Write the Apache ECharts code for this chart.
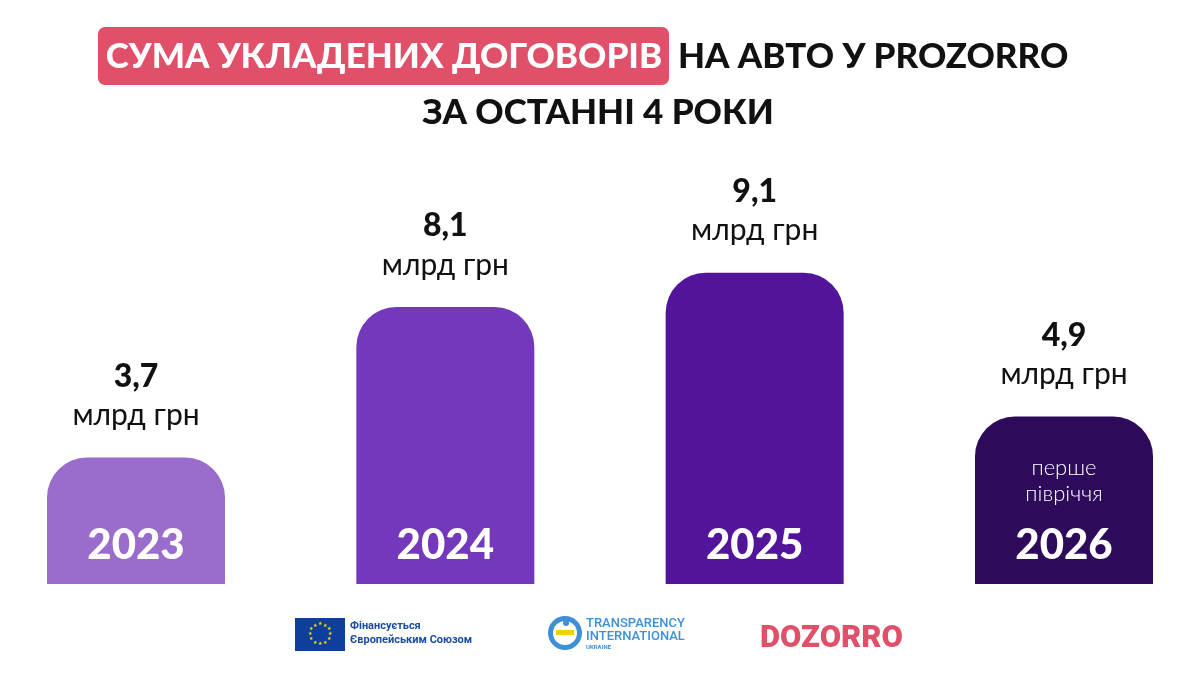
<!DOCTYPE html>
<html><head><meta charset="utf-8">
<script src="https://cdn.jsdelivr.net/npm/echarts@6/dist/echarts.min.js"></script>
<style>html,body{margin:0;padding:0;background:#fff}#c{width:1200px;height:675px}</style>
</head><body><div id="c"></div>
<script>
const years = ['2023', '2024', '2025', '2026'];
const values = [3.7, 8.1, 9.1, 4.9];
const valueLabels = ['3,7', '8,1', '9,1', '4,9'];
const unitLabel = 'млрд грн';
const notes = ['', '', '', 'перше\nпівріччя'];
const colors = ['#9a6dcc', '#7338bb', '#51149a', '#2d0a5a'];

const FONT = 'Lato, "Open Sans", sans-serif';
const chart = echarts.init(document.getElementById('c'), null, {renderer: 'canvas'});

const stars = [];
for (let i = 0; i < 12; i++) {
  const a = i / 12 * Math.PI * 2;
  stars.push({type: 'text', x: 320 + 10 * Math.cos(a), y: 634 + 10 * Math.sin(a),
    style: {text: '★', fill: '#ffdd00', fontSize: 5, align: 'center', verticalAlign: 'middle'}});
}

chart.setOption({
  animation: false,
  backgroundColor: '#ffffff',
  grid: {left: 136, right: 136, top: 242, bottom: 91},
  xAxis: {type: 'category', data: years, boundaryGap: false, show: false},
  yAxis: {type: 'value', min: 0, max: 10, show: false},
  series: [
    {
      type: 'bar', barWidth: 178,
      data: values.map((v, i) => ({value: v, itemStyle: {color: colors[i], borderRadius: [40, 40, 0, 0]}})),
      label: {
        show: true, position: 'top', distance: 24,
        formatter: p => '{v|' + valueLabels[p.dataIndex] + '}\n{u|' + unitLabel + '}',
        rich: {
          v: {fontFamily: FONT, fontWeight: 900, fontSize: 32, lineHeight: 42, color: '#111', align: 'center'},
          u: {fontFamily: FONT, fontWeight: 400, fontSize: 30, lineHeight: 36, color: '#111', align: 'center'}
        }
      }
    },
    {
      type: 'bar', barWidth: 178, barGap: '-100%', silent: true,
      data: values.map(v => ({value: v, itemStyle: {color: 'rgba(0,0,0,0)'}})),
      label: {
        show: true, position: 'insideBottom', distance: 14,
        formatter: p => {
          const n = notes[p.dataIndex];
          if (n) return n.split('\n').map(s => '{s|' + s + '}').join('\n') + '\n{g| }\n{y|' + years[p.dataIndex] + '}';
          return '{y|' + years[p.dataIndex] + '}';
        },
        rich: {
          s: {fontFamily: FONT, fontWeight: 300, fontSize: 22, lineHeight: 26, color: '#ffffff', align: 'center'},
          g: {fontSize: 6, lineHeight: 13},
          y: {fontFamily: FONT, fontWeight: 900, fontSize: 42, lineHeight: 50, color: '#ffffff', align: 'center'}
        }
      }
    }
  ],
  graphic: [
    {type: 'rect', shape: {x: 98, y: 27, width: 571, height: 58, r: 7}, style: {fill: '#e05068'}},
    {type: 'text', x: 384, y: 57, style: {text: 'СУМА УКЛАДЕНИХ ДОГОВОРІВ', fill: '#fff', fontFamily: FONT, fontWeight: 900, fontSize: 35, align: 'center', verticalAlign: 'middle'}},
    {type: 'text', x: 678, y: 57, style: {text: 'НА АВТО У PROZORRO', fill: '#111', fontFamily: FONT, fontWeight: 900, fontSize: 35, align: 'left', verticalAlign: 'middle'}},
    {type: 'text', x: 598, y: 113, style: {text: 'ЗА ОСТАННІ 4 РОКИ', fill: '#111', fontFamily: FONT, fontWeight: 900, fontSize: 35, align: 'center', verticalAlign: 'middle'}},
    // EU logo
    {type: 'rect', shape: {x: 295, y: 618, width: 50, height: 33}, style: {fill: '#0e3f9c'}},
    ...stars,
    {type: 'text', x: 350, y: 626, style: {text: 'Фінансується', fill: '#1a4ea0', fontFamily: 'Roboto, sans-serif', fontWeight: 700, fontSize: 11, verticalAlign: 'middle'}},
    {type: 'text', x: 350, y: 640, style: {text: 'Європейським Союзом', fill: '#1a4ea0', fontFamily: 'Roboto, sans-serif', fontWeight: 700, fontSize: 11, verticalAlign: 'middle'}},
    // TI logo
    {type: 'circle', shape: {cx: 565, cy: 633, r: 17}, style: {fill: '#3e8fd6'}},
    {type: 'circle', shape: {cx: 565, cy: 633, r: 12}, style: {fill: '#ffffff'}},
    {type: 'rect', shape: {x: 556, y: 630, width: 18, height: 5}, style: {fill: '#f5d000'}},
    {type: 'circle', shape: {cx: 566, cy: 623, r: 3}, style: {fill: '#3e8fd6'}},
    {type: 'text', x: 586, y: 624, style: {text: 'TRANSPARENCY', fill: '#3e8fd6', fontFamily: 'Roboto, sans-serif', fontWeight: 500, fontSize: 13, verticalAlign: 'middle'}},
    {type: 'text', x: 586, y: 637, style: {text: 'INTERNATIONAL', fill: '#3e8fd6', fontFamily: 'Roboto, sans-serif', fontWeight: 500, fontSize: 13, verticalAlign: 'middle'}},
    {type: 'text', x: 586, y: 647, style: {text: 'UKRAINE', fill: '#3e8fd6', fontFamily: 'Roboto, sans-serif', fontWeight: 700, fontSize: 6, verticalAlign: 'middle'}},
    // DOZORRO
    {type: 'text', x: 760, y: 639, style: {text: 'DOZORRO', fill: '#e05068', fontFamily: 'Roboto, sans-serif', fontWeight: 900, fontSize: 31, verticalAlign: 'middle'}}
  ]
});
</script></body></html>
